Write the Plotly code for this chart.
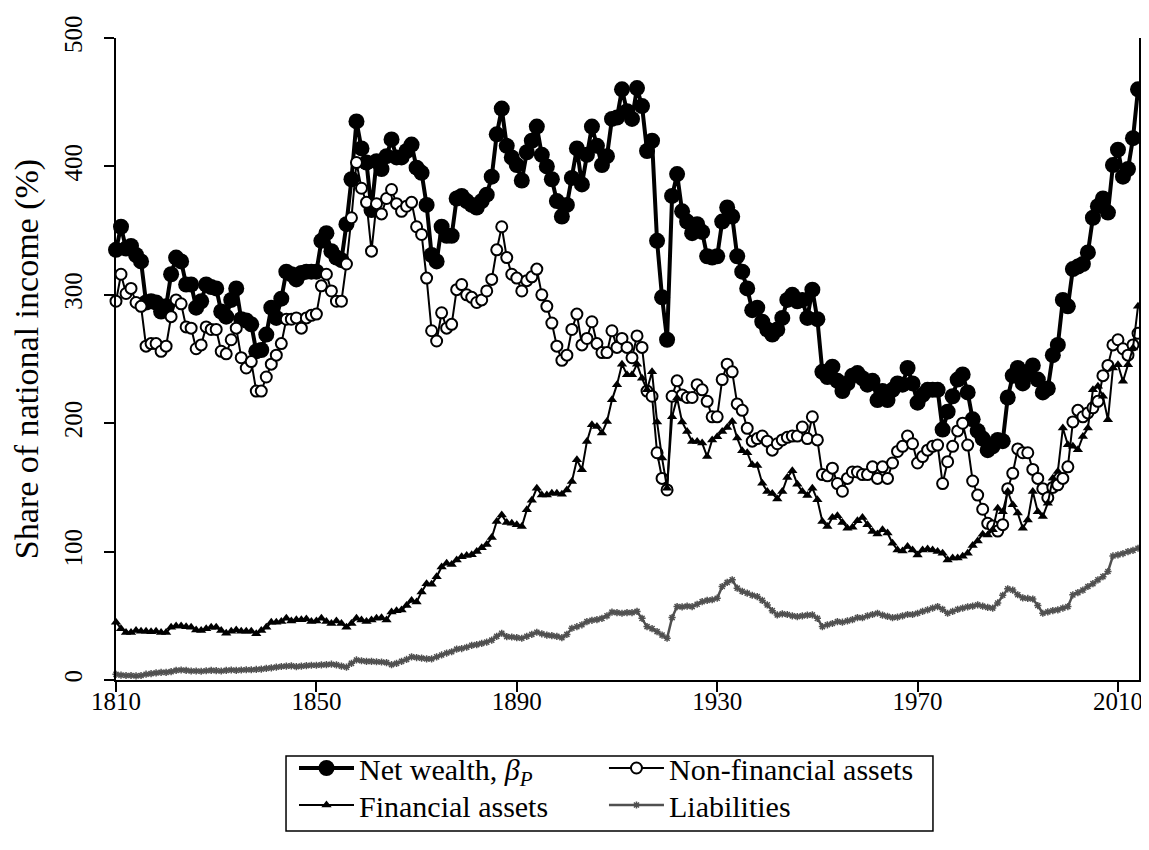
import plotly.graph_objects as go

years = list(range(1810, 2015))

net_wealth = [
    335, 353, 336, 338, 331, 326, 294, 295, 294, 287,
    291, 316, 329, 326, 308, 308, 290, 295, 308, 306,
    305, 287, 283, 296, 305, 281, 280, 277, 256, 257,
    269, 290, 282, 297, 318, 316, 312, 317, 318, 318,
    318, 342, 348, 334, 329, 327, 355, 390, 435, 414,
    403, 366, 404, 398, 408, 421, 407, 407, 412, 417,
    399, 395, 370, 331, 326, 353, 346, 346, 375, 377,
    373, 370, 368, 373, 378, 392, 425, 445, 416, 407,
    401, 389, 411, 420, 431, 409, 400, 390, 373, 361,
    370, 391, 414, 386, 409, 431, 416, 401, 408, 437,
    438, 460, 443, 437, 461, 447, 412, 420, 342, 298,
    265, 377, 394, 365, 357, 348, 355, 349, 330, 329,
    330, 357, 368, 361, 330, 318, 305, 288, 290, 279,
    273, 269, 273, 282, 296, 300, 295, 296, 282, 304,
    281, 240, 236, 244, 233, 225, 231, 237, 239, 235,
    230, 233, 218, 225, 218, 226, 231, 230, 243, 231,
    216, 222, 226, 226, 226, 195, 209, 221, 234, 238,
    224, 203, 194, 188, 179, 182, 187, 186, 220, 237,
    243, 231, 238, 245, 234, 224, 227, 253, 261, 296,
    291, 320, 322, 324, 333, 360, 369, 375, 364, 401,
    413, 392, 398, 422, 460,
]

non_financial = [
    295, 316, 301, 305, 294, 291, 260, 262, 262, 256,
    260, 283, 296, 293, 275, 274, 258, 261, 275, 273,
    273, 256, 254, 265, 274, 251, 243, 248, 225, 225,
    236, 246, 253, 262, 281, 281, 282, 274, 282, 284,
    285, 307, 316, 303, 295, 295, 324, 360, 403, 383,
    372, 334, 371, 363, 375, 382, 371, 365, 369, 372,
    353, 347, 313, 272, 264, 286, 274, 277, 304, 308,
    300, 298, 294, 296, 303, 312, 335, 353, 329, 316,
    313, 303, 311, 314, 320, 300, 291, 278, 260, 249,
    253, 273, 285, 261, 266, 279, 262, 255, 255, 272,
    259, 266, 259, 251, 268, 259, 225, 221, 177, 157,
    148, 221, 233, 222, 220, 220, 230, 226, 217, 205,
    205, 234, 246, 240, 215, 210, 196, 186, 188, 190,
    186, 179, 184, 187, 189, 190, 190, 197, 188, 205,
    187, 160, 159, 165, 153, 147, 157, 162, 162, 160,
    160, 166, 157, 166, 157, 169, 178, 182, 190, 184,
    169, 174, 179, 182, 183, 153, 170, 182, 194, 200,
    183, 155, 144, 133, 122, 120, 116, 121, 149, 161,
    180, 177, 177, 164, 157, 149, 142, 150, 152, 157,
    166, 201, 210, 205, 208, 212, 217, 237, 245, 261,
    265, 258, 253, 261, 270,
]

financial = [
    45, 40, 37, 37, 38.5, 38, 38, 37.5, 38, 37,
    37, 41, 42, 42, 41.5, 41, 39, 38.5, 40, 41,
    41, 38.5, 36.5, 38, 39, 38, 38, 38, 36, 38.5,
    41, 45, 45, 45.5, 48, 46, 47, 47, 47.5, 45.5,
    46, 48, 45.5, 44, 46, 44, 41, 44, 48, 46.7,
    45.5, 46.7, 48, 48.5, 46.7, 53, 54, 54.5, 58, 62,
    60.8, 68.6, 75, 74.5, 80.5, 88, 91, 90, 93.5, 96,
    97, 97.5, 100, 103, 105.5, 111, 123.5, 128.6, 122.6, 122,
    121, 119.5, 132.5, 140, 149.4, 144, 144, 145.5, 145.5, 144.6,
    148, 154.6, 171.5, 163.7, 185.8, 198.8, 197.5, 192.3, 201.4, 218.2,
    230, 246, 237.7, 237.7, 246, 235, 226, 240, 201, 172.8,
    149.4, 205, 219.6, 201, 193.6, 185.8, 185.8, 184.5, 174, 187,
    189.5, 193.6, 196.7, 201.4, 188.4, 178.5, 177, 167.6, 167, 153.3,
    146.8, 145.3, 141, 146.8, 157.7, 162.9, 152.5, 146.8, 143.7, 149.4,
    140.3, 123.5, 119.5, 126.6, 128, 122.6, 118.2, 119, 124, 126.6,
    121, 115.7, 113.7, 117, 114.5, 106.5, 101.3, 100.5, 104, 101.3,
    97.4, 101.3, 102, 101.3, 100, 98.8, 93.5, 95, 95, 96.3,
    98.8, 104.7, 108.3, 113.5, 113, 117, 133.8, 131, 146.8, 136.5,
    130, 118.2, 124.6, 146.8, 131, 127.4, 137.7, 157.2, 162.4, 196.2,
    183.2, 182, 179.3, 189.7, 196.2, 226, 228.7, 220.9, 202.6, 243,
    245.5, 232.6, 245.5, 258.5, 291,
]

liabilities = [
    4.4, 3.8, 3.5, 3.5, 3.2, 3.5, 4.5, 5, 5.5, 6,
    6, 6.5, 7.5, 7.8, 7.5, 7, 7, 6.8, 7.2, 7.5,
    7.3, 7, 7.5, 7.8, 7.5, 7.8, 8, 8, 8.2, 8.5,
    9, 9.5, 10, 10.5, 10.8, 11, 10.4, 10.8, 11.2, 11.5,
    11.5, 11.8, 12, 12.3, 11.8, 10.8, 10, 13, 15.6, 15,
    14.5, 14.5, 14.2, 14, 13.5, 12, 13, 14.5, 16, 18,
    17.5, 17, 16.5, 16.5, 18, 19.5, 21, 22, 24, 24.5,
    25.5, 27, 27.5, 28.5, 29.5, 31, 34, 36.4, 33.8, 33.5,
    33, 32.5, 34, 35.5, 37.2, 36, 35, 34.5, 34, 33,
    35.5, 40.3, 41.5, 43, 45.5, 46.5, 47, 48, 50, 52.8,
    52.5, 52, 52.5, 52.5, 53.4, 48, 41.6, 40, 37.7, 35,
    32.5, 48.6, 57.2, 57, 57.5, 57.2, 59, 61, 62, 62.5,
    63.7, 72.8, 76, 78, 71.5, 69, 67.6, 66, 65, 62,
    58.5, 54, 50.7, 51.5, 51, 50, 49.4, 50, 50.5, 50.7,
    48, 41.6, 43, 44, 45.5, 45, 46, 47, 48.6, 48.5,
    50, 51, 52, 50.5, 49.5, 48.6, 49, 50, 51, 51,
    52, 53.5, 54.6, 56, 57.2, 55, 52, 53.5, 55, 56,
    57, 57.5, 58.5, 57.5, 56.5, 56, 60, 66, 71, 70,
    66.4, 64, 63.5, 63.1, 58, 52, 53, 54, 54.6, 56,
    57.2, 66.3, 68, 70, 72.8, 75, 78, 80.5, 84.5, 96.6,
    97.5, 98.5, 100, 101, 102.6,
]

x_ticks = [1810, 1850, 1890, 1930, 1970, 2010]
y_ticks = [0, 100, 200, 300, 400, 500]

SERIF = "Liberation Serif"

fig = go.Figure()

fig.add_trace(
    go.Scatter(
        x=years,
        y=net_wealth,
        mode="lines+markers",
        name="Net wealth, <i>β<sub>P</sub></i>",
        line={"color": "black", "width": 4},
        marker={"symbol": "circle", "size": 16, "color": "black"},
        cliponaxis=False,
        legend="legend",
    )
)
fig.add_trace(
    go.Scatter(
        x=years,
        y=non_financial,
        mode="lines+markers",
        name="Non-financial assets",
        line={"color": "black", "width": 2},
        marker={"symbol": "circle", "size": 11, "color": "white", "line": {"color": "black", "width": 2}},
        cliponaxis=False,
        legend="legend2",
    )
)
fig.add_trace(
    go.Scatter(
        x=years,
        y=financial,
        mode="lines+markers",
        name="Financial assets",
        line={"color": "black", "width": 2},
        marker={"symbol": "triangle-up", "size": 9, "color": "black"},
        cliponaxis=False,
        legend="legend3",
    )
)
fig.add_trace(
    go.Scatter(
        x=years,
        y=liabilities,
        mode="lines+markers",
        name="Liabilities",
        line={"color": "#505050", "width": 2.5},
        marker={"symbol": "asterisk", "size": 6, "color": "#505050", "line": {"color": "#505050", "width": 1.5}},
        cliponaxis=False,
        legend="legend4",
    )
)

axis_style = {
    "showline": True,
    "linecolor": "black",
    "linewidth": 2,
    "ticks": "outside",
    "ticklen": 10,
    "tickwidth": 2,
    "tickcolor": "black",
    "showgrid": False,
    "zeroline": False,
    "tickfont": {"family": SERIF, "size": 25, "color": "black"},
}

legend_style = {
    "orientation": "v",
    "xanchor": "left",
    "yanchor": "middle",
    "bgcolor": "rgba(0,0,0,0)",
    "borderwidth": 0,
    "itemwidth": 55,
    "font": {"family": SERIF, "size": 30, "color": "black"},
}

row1, row2 = -0.1371, -0.1947
col1, col2 = 0.174, 0.477

fig.update_layout(
    width=1149,
    height=850,
    margin={"l": 108, "r": 18, "t": 30, "b": 178, "autoexpand": False},
    plot_bgcolor="white",
    paper_bgcolor="white",
    showlegend=True,
    legend={**legend_style, "x": col1, "y": row1},
    legend2={**legend_style, "x": col2, "y": row1},
    legend3={**legend_style, "x": col1, "y": row2},
    legend4={**legend_style, "x": col2, "y": row2},
    xaxis={**axis_style, "range": [1810, 2014.2], "tickvals": x_ticks, "ticklabelstandoff": -12},
    yaxis={
        **axis_style,
        "range": [0, 500],
        "tickvals": y_ticks,
        "tickangle": -90,
        "ticklabelstandoff": 12,
        "mirror": True,
        "title": {"text": "Share of national income (%)", "font": {"family": SERIF, "size": 34, "color": "black"}},
    },
    shapes=[
        {
            "type": "rect",
            "xref": "paper",
            "yref": "paper",
            "x0": 0.1662,
            "x1": 0.7986,
            "y0": -0.1184,
            "y1": -0.2352,
            "line": {"color": "black", "width": 1.5},
        }
    ],
)

fig.write_html("out.html")
